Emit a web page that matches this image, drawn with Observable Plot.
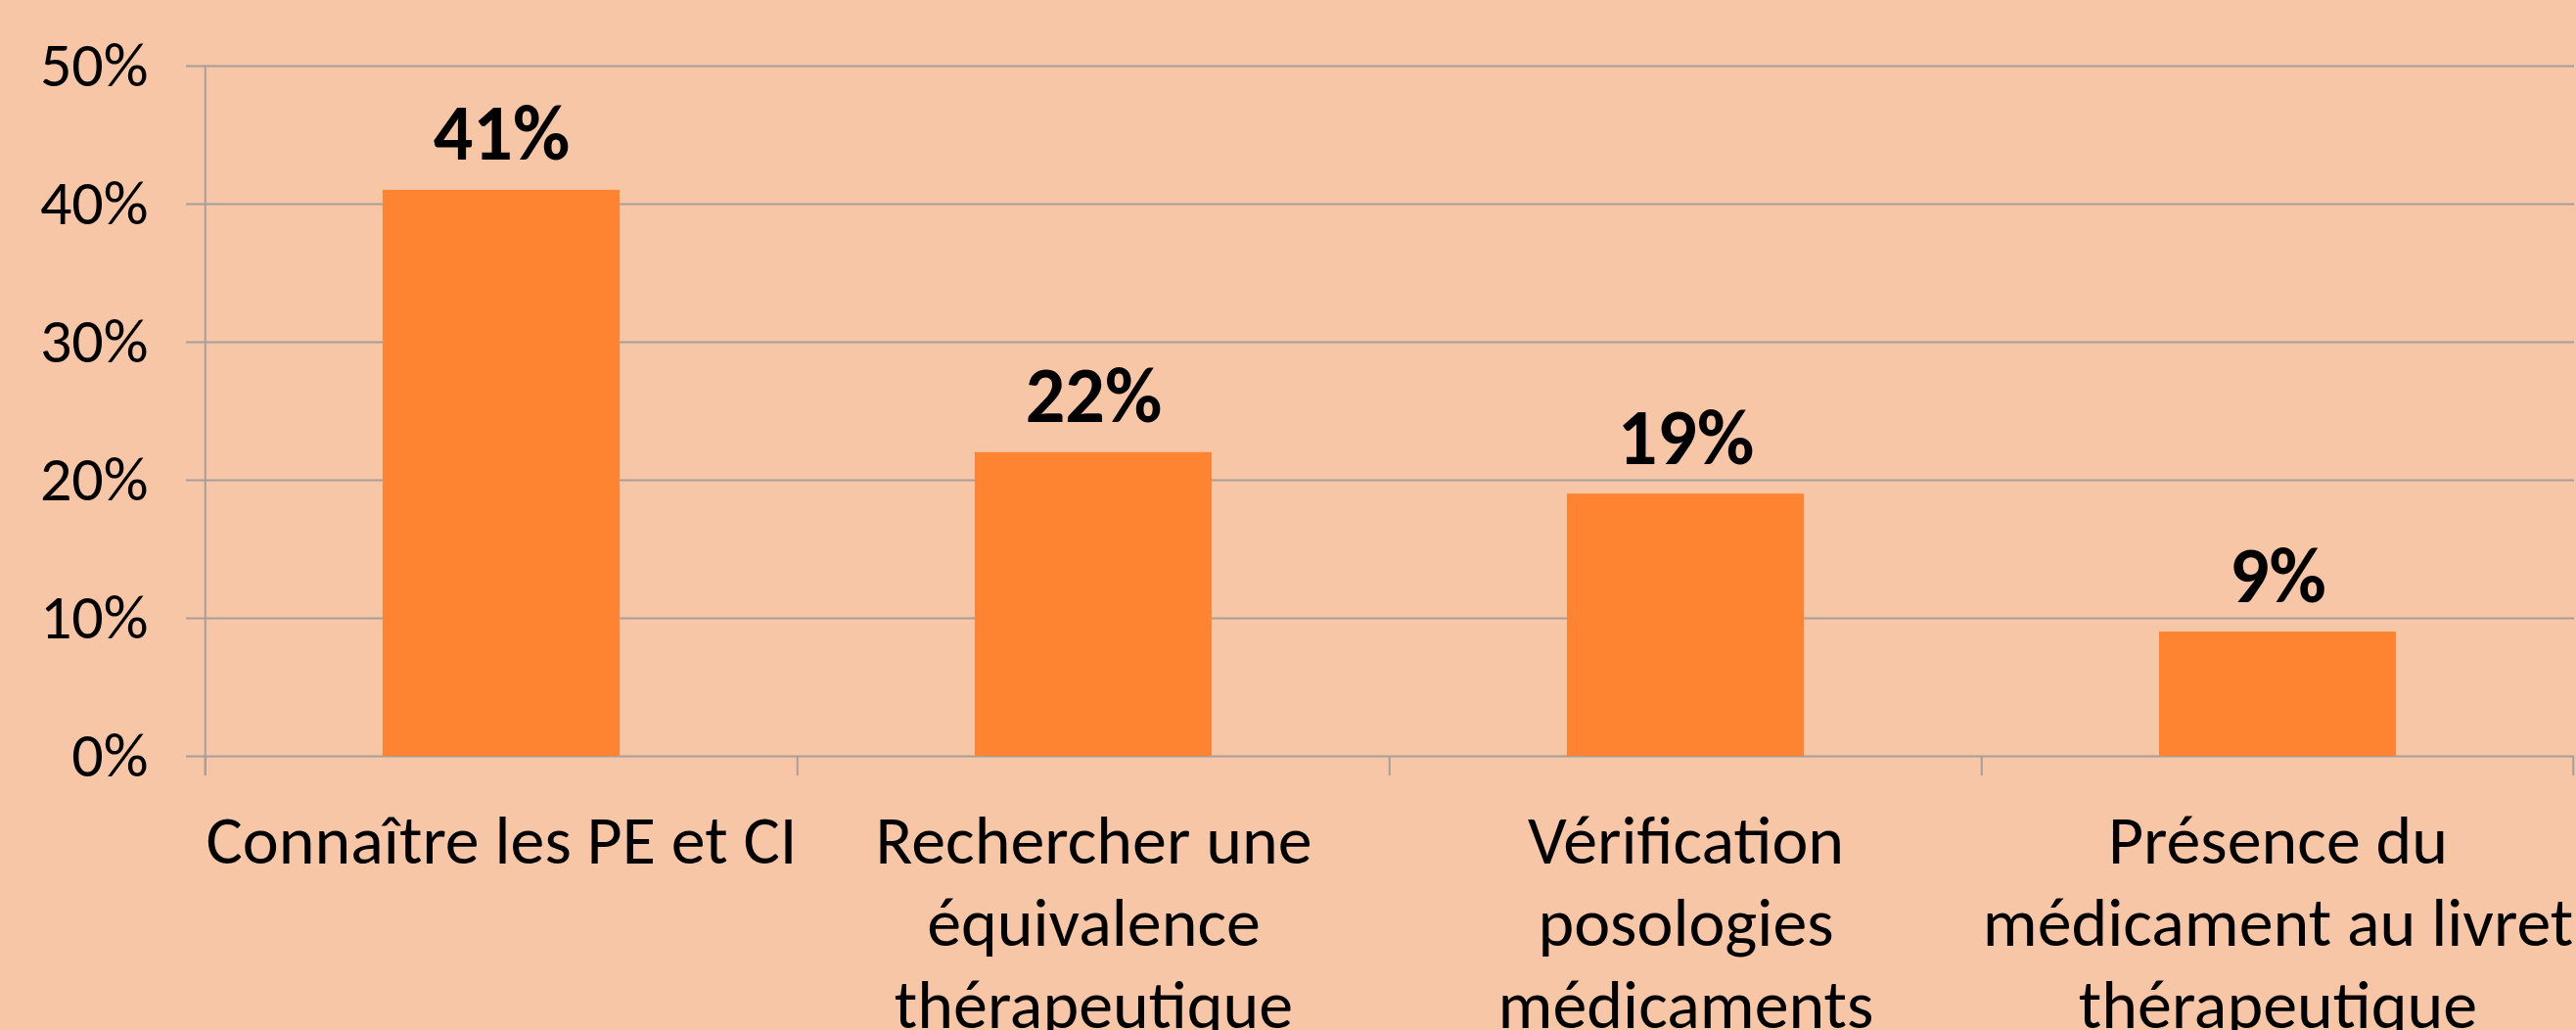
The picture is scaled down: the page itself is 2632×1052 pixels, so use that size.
<!DOCTYPE html>
<html><head><meta charset="utf-8">
<script src="https://cdn.jsdelivr.net/npm/d3@7"></script>
<script src="https://cdn.jsdelivr.net/npm/@observablehq/plot@0.6"></script>
<style>
html,body{margin:0;padding:0;background:#F7C6A6;overflow:hidden;}
#chart svg{display:block;}
</style></head><body><div id="chart"></div>
<script>
const categories = ["Connaître les PE et CI", "Rechercher une équivalence thérapeutique", "Vérification posologies médicaments", "Présence du médicament au livret thérapeutique"];
const tickLabels = ["Connaître les PE et CI", "Rechercher une\néquivalence\nthérapeutique", "Vérification\nposologies\nmédicaments", "Présence du\nmédicament au livret\nthérapeutique"];
const values = [41, 22, 19, 9];
const yTicks = [0, 10, 20, 30, 40, 50];

const data = categories.map((c, i) => ({category: c, value: values[i]}));

const W = 2632, H = 1052, mL = 208, mR = 2, mT = 67, mB = 280;
const step = (W - mL - mR) / categories.length;
const gridColor = "#A59E9B";
const font = "Carlito, Calibri, Lato, sans-serif";

const chart = Plot.plot({
  width: W, height: H,
  marginLeft: mL, marginRight: mR, marginTop: mT, marginBottom: mB,
  style: {background: "transparent", fontFamily: font, color: "#000", overflow: "visible"},
  x: {domain: categories, paddingInner: 0.6, paddingOuter: 0.3, label: null},
  y: {domain: [0, 50], label: null},
  marks: [
    Plot.ruleY(yTicks, {y: d => d, stroke: gridColor, strokeWidth: 2, insetLeft: -18}),
    Plot.barY(data, {x: "category", y: "value", fill: "#FE8432"}),
    // category boundary ticks
    Plot.ruleX(categories, {x: d => d, dx: -step / 2, y1: 0, y2: 0, insetBottom: -20, stroke: gridColor, strokeWidth: 2}),
    Plot.ruleX([categories[categories.length - 1]], {x: d => d, dx: step / 2 - 1, y1: 0, y2: 0, insetBottom: -20, stroke: gridColor, strokeWidth: 2}),
    // y axis line
    Plot.ruleX([categories[0]], {x: d => d, dx: -step / 2, y1: 50, y2: 0, insetBottom: -20, stroke: gridColor, strokeWidth: 2}),
    Plot.axisY({ticks: yTicks, tickSize: 0, tickPadding: 57, tickFormat: d => d + "%", fontSize: 64, fontFamily: font, label: null}),
    Plot.axisX({tickSize: 0, tickPadding: 50, tickFormat: d => tickLabels[categories.indexOf(d)], fontSize: 70, lineHeight: 1.2, fontFamily: font, label: null}),
    Plot.text(data, {x: "category", y: "value", text: d => d.value + "%", dy: -31, lineAnchor: "bottom", fontWeight: "bold", fontSize: 80, fontFamily: font, fill: "#000"})
  ]
});
document.getElementById("chart").appendChild(chart);
</script></body></html>
